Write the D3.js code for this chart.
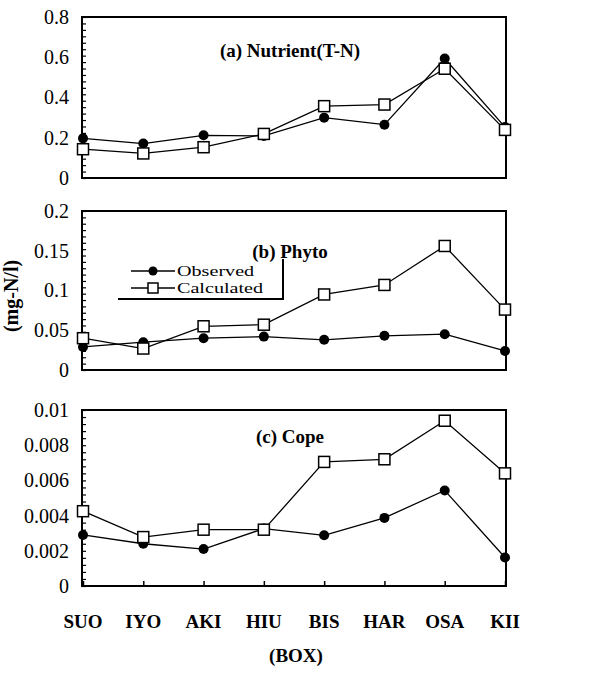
<!DOCTYPE html>
<html>
<head>
<meta charset="utf-8">
<script src="https://cdn.jsdelivr.net/npm/d3@7"></script>
<style>
  body { margin: 0; background: #fff; }
</style>
</head>
<body>
<script>
var boxes = ["SUO", "IYO", "AKI", "HIU", "BIS", "HAR", "OSA", "KII"];

var nutObs = [0.197, 0.171, 0.212, 0.209, 0.300, 0.265, 0.594, 0.253];
var nutCal = [0.143, 0.122, 0.153, 0.219, 0.357, 0.365, 0.543, 0.239];
var nutTicks = [0, 0.2, 0.4, 0.6, 0.8];

var phyObs = [0.029, 0.035, 0.040, 0.042, 0.038, 0.043, 0.045, 0.024];
var phyCal = [0.040, 0.027, 0.055, 0.057, 0.095, 0.107, 0.156, 0.076];
var phyTicks = [0, 0.05, 0.1, 0.15, 0.2];

var copObs = [0.0029, 0.0024, 0.0021, 0.00326, 0.00288, 0.00387, 0.00543, 0.00162];
var copCal = [0.00425, 0.00278, 0.0032, 0.0032, 0.00705, 0.0072, 0.00939, 0.0064];
var copTicks = [0, 0.002, 0.004, 0.006, 0.008, 0.01];

var serif = "'Liberation Serif', 'Times New Roman', Times, serif";

var svg = d3.select("body")
    .append("svg")
    .attr("width", 606)
    .attr("height", 675)
    .attr("font-family", serif)
    .style("display", "block");

var left = 82, right = 506;

var x = d3.scalePoint()
    .domain(boxes)
    .range([left + 1, right - 1]);

var panels = [
    {title: "(a) Nutrient(T-N)", obs: nutObs, cal: nutCal, ticks: nutTicks, top: 17, bottom: 178, ty: 57, xticks: false},
    {title: "(b) Phyto", obs: phyObs, cal: phyCal, ticks: phyTicks, top: 211, bottom: 370, ty: 258, xticks: false},
    {title: "(c) Cope", obs: copObs, cal: copCal, ticks: copTicks, top: 410, bottom: 586, ty: 443, xticks: true}
];

panels.forEach(function (p) {
    var max = p.ticks[p.ticks.length - 1];
    var y = d3.scaleLinear()
        .domain([0, max])
        .range([p.bottom, p.top]);

    var g = svg.append("g");

    // tick labels
    g.append("g")
        .attr("transform", "translate(" + left + ",0)")
        .call(d3.axisLeft(y).tickValues(p.ticks).tickSize(0).tickPadding(13).tickFormat(d3.format("~g")))
        .attr("font-family", serif)
        .attr("font-size", 20)
        .call(function (a) { a.select(".domain").remove(); })
        .selectAll("text")
        .attr("fill", "#000");

    // small inside ticks
    g.append("g")
        .attr("transform", "translate(" + left + ",0)")
        .call(d3.axisRight(y).tickValues(d3.range(0, 26).map(function (i) { return max * i / 25; }))
            .tickSize(4).tickFormat(""))
        .call(function (a) {
            a.select(".domain").remove();
            a.selectAll("line").attr("stroke", "#000").attr("stroke-width", 1.2);
        });

    if (p.xticks) {
        g.append("g")
            .attr("transform", "translate(0," + p.bottom + ")")
            .call(d3.axisTop(x).tickSize(5).tickFormat(""))
            .call(function (a) {
                a.select(".domain").remove();
                a.selectAll("line").attr("stroke", "#000").attr("stroke-width", 1.5);
            });
    }

    // frame
    g.append("rect")
        .attr("x", left)
        .attr("y", p.top)
        .attr("width", right - left)
        .attr("height", p.bottom - p.top)
        .attr("fill", "none")
        .attr("stroke", "#000")
        .attr("stroke-width", 2);

    var line = d3.line()
        .x(function (d, i) { return x(boxes[i]); })
        .y(function (d) { return y(d); });

    [p.obs, p.cal].forEach(function (s) {
        g.append("path")
            .datum(s)
            .attr("d", line)
            .attr("fill", "none")
            .attr("stroke", "#000")
            .attr("stroke-width", 1.3);
    });

    g.selectAll(".obs")
        .data(p.obs)
        .enter()
        .append("circle")
        .attr("cx", function (d, i) { return x(boxes[i]); })
        .attr("cy", function (d) { return y(d); })
        .attr("r", 5)
        .attr("fill", "#000");

    g.selectAll(".cal")
        .data(p.cal)
        .enter()
        .append("rect")
        .attr("x", function (d, i) { return x(boxes[i]) - 5.5; })
        .attr("y", function (d) { return y(d) - 5.5; })
        .attr("width", 11)
        .attr("height", 11)
        .attr("fill", "#fff")
        .attr("stroke", "#000")
        .attr("stroke-width", 1.5);

    g.append("text")
        .attr("x", 290)
        .attr("y", p.ty)
        .attr("text-anchor", "middle")
        .attr("font-family", serif)
        .attr("font-weight", "bold")
        .attr("font-size", 19)
        .text(p.title);
});

// x labels
svg.append("g")
    .selectAll("text")
    .data(boxes)
    .enter()
    .append("text")
    .attr("x", function (d) { return x(d); })
    .attr("y", 628)
    .attr("text-anchor", "middle")
    .attr("font-family", serif)
    .attr("font-weight", "bold")
    .attr("font-size", 19)
    .text(function (d) { return d; });

svg.append("text")
    .attr("x", 296)
    .attr("y", 662)
    .attr("text-anchor", "middle")
    .attr("font-family", serif)
    .attr("font-weight", "bold")
    .attr("font-size", 19)
    .text("(BOX)");

svg.append("text")
    .attr("transform", "translate(18,296) rotate(-90)")
    .attr("text-anchor", "middle")
    .attr("font-family", serif)
    .attr("font-weight", "bold")
    .attr("font-size", 20)
    .text("(mg-N/l)");

// legend
var leg = svg.append("g");
leg.append("path")
    .attr("d", "M118,299H283V259")
    .attr("fill", "none")
    .attr("stroke", "#000")
    .attr("stroke-width", 2);

var legItems = [{name: "Observed", y: 271, kind: "obs"}, {name: "Calculated", y: 288, kind: "cal"}];
legItems.forEach(function (d) {
    leg.append("line")
        .attr("x1", 131).attr("x2", 175)
        .attr("y1", d.y).attr("y2", d.y)
        .attr("stroke", "#000")
        .attr("stroke-width", 1.3);
    if (d.kind === "obs") {
        leg.append("circle").attr("cx", 153).attr("cy", d.y).attr("r", 4.5).attr("fill", "#000");
    } else {
        leg.append("rect").attr("x", 148).attr("y", d.y - 5).attr("width", 10).attr("height", 10)
            .attr("fill", "#fff").attr("stroke", "#000").attr("stroke-width", 1.5);
    }
    leg.append("text")
        .attr("transform", "translate(177," + (d.y + 5) + ") scale(1.3,1)")
        .attr("font-family", serif)
        .attr("font-size", 15.5)
        .text(d.name);
});
</script>
</body>
</html>
